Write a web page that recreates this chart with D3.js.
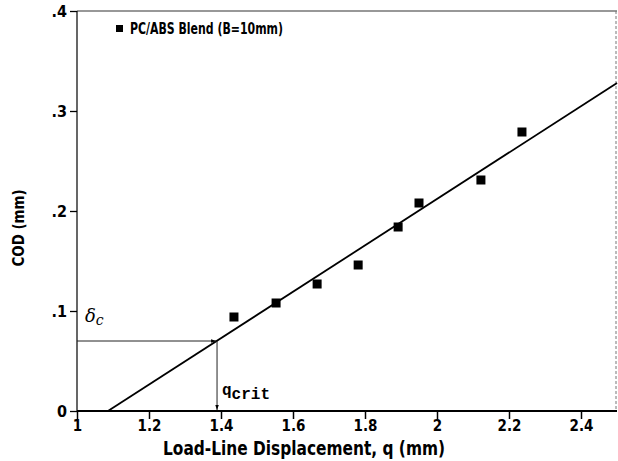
<!DOCTYPE html>
<html>
<head>
<meta charset="utf-8">
<script src="https://cdn.jsdelivr.net/npm/d3@7"></script>
<style>
  body { margin: 0; background: #fff; }
  svg { display: block; }
</style>
</head>
<body>
<div id="container"></div>
<script>
// DATA
const qValues = [1.436, 1.553, 1.667, 1.781, 1.892, 1.95, 2.122, 2.236];
const codValues = [0.094, 0.108, 0.127, 0.146, 0.184, 0.208, 0.231, 0.279];
const fitX = [1.086, 2.5];
const fitY = [0, 0.328];
const qCrit = 1.389;
const deltaC = 0.070;
const xTicks = [1, 1.2, 1.4, 1.6, 1.8, 2, 2.2, 2.4];
const xTickLabels = ["1", "1.2", "1.4", "1.6", "1.8", "2", "2.2", "2.4"];
const yTicks = [0, 0.1, 0.2, 0.3, 0.4];
const yTickLabels = ["0", ".1", ".2", ".3", ".4"];
const legendLabel = "PC/ABS Blend (B=10mm)";

// SVG
const width = 618;
const height = 461;
const font = "'DejaVu Sans Condensed', 'Liberation Sans Narrow', sans-serif";

const svg = d3.select("div#container").append("svg")
    .attr("width", width)
    .attr("height", height);

// SCALES
const x = d3.scaleLinear().domain([1, 2.5]).range([77, 617]);
const y = d3.scaleLinear().domain([0, 0.4]).range([411, 11]);

// frame (top + right, faint)
svg.append("line")
    .attr("x1", x(1)).attr("x2", x(2.5))
    .attr("y1", y(0.4)).attr("y2", y(0.4))
    .attr("stroke", "#333").attr("stroke-width", 1.2);
svg.append("line")
    .attr("x1", x(2.5) - 1).attr("x2", x(2.5) - 1)
    .attr("y1", y(0.4)).attr("y2", y(0))
    .attr("stroke", "#777").attr("stroke-width", 1)
    .attr("stroke-dasharray", "3,2");

// AXES
const xAxis = svg.append("g")
    .attr("transform", "translate(0," + y(0) + ")")
    .call(d3.axisBottom(x).tickValues(xTicks)
      .tickFormat((d, i) => xTickLabels[i]).tickSize(8).tickPadding(1));
xAxis.select(".domain").attr("stroke-width", 2).attr("d", "M" + x(1) + ",0H" + x(2.5));
xAxis.selectAll(".tick line").attr("stroke-width", 1.5);
xAxis.selectAll(".tick text")
    .attr("font-family", font).attr("font-size", 15).attr("font-weight", "bold")
    .attr("fill", "#000");

const yAxis = svg.append("g")
    .attr("transform", "translate(" + x(1) + ",0)")
    .call(d3.axisLeft(y).tickValues(yTicks)
      .tickFormat((d, i) => yTickLabels[i]).tickSize(7).tickPadding(3));
yAxis.select(".domain").attr("stroke-width", 1.2).attr("d", "M0," + y(0.4) + "V" + y(0));
yAxis.selectAll(".tick line").attr("stroke-width", 1.3);
yAxis.selectAll(".tick text")
    .attr("font-family", font).attr("font-size", 16).attr("font-weight", "bold")
    .attr("fill", "#000");

// AXIS TITLES
svg.append("text")
    .attr("x", 304).attr("y", 455)
    .attr("text-anchor", "middle")
    .attr("font-family", font).attr("font-size", 19).attr("font-weight", "bold")
    .attr("textLength", 282).attr("lengthAdjust", "spacingAndGlyphs")
    .text("Load-Line Displacement, q (mm)");

svg.append("text")
    .attr("transform", "translate(24,228) rotate(-90)")
    .attr("text-anchor", "middle")
    .attr("font-family", font).attr("font-size", 16).attr("font-weight", "bold")
    .attr("textLength", 77).attr("lengthAdjust", "spacingAndGlyphs")
    .text("COD (mm)");

// FIT LINE
const line = d3.line()
    .x(d => x(d[0]))
    .y(d => y(d[1]));
svg.append("path")
    .datum(fitX.map((d, i) => [d, fitY[i]]))
    .attr("d", line)
    .attr("fill", "none")
    .attr("stroke", "#000")
    .attr("stroke-width", 1.8);

// CRITICAL POINT ARROWS
svg.append("defs").append("marker")
    .attr("id", "arrow")
    .attr("viewBox", "0 0 10 10")
    .attr("refX", 10).attr("refY", 5)
    .attr("markerWidth", 11).attr("markerHeight", 5)
    .attr("markerUnits", "userSpaceOnUse")
    .attr("orient", "auto")
    .append("path")
    .attr("d", "M0,1.5L10,5L0,8.5Z")
    .attr("fill", "#000");

svg.append("line")
    .attr("x1", x(1)).attr("x2", x(qCrit) - 1)
    .attr("y1", y(deltaC)).attr("y2", y(deltaC))
    .attr("stroke", "#222").attr("stroke-width", 1)
    .attr("marker-end", "url(#arrow)");
svg.append("line")
    .attr("x1", x(qCrit)).attr("x2", x(qCrit))
    .attr("y1", y(deltaC)).attr("y2", y(0) - 1)
    .attr("stroke", "#222").attr("stroke-width", 1)
    .attr("marker-end", "url(#arrow)");

svg.append("text")
    .attr("x", 85).attr("y", 322)
    .attr("font-family", "'DejaVu Serif', 'Liberation Serif', serif")
    .attr("font-style", "italic").attr("font-size", 18)
    .text("δ")
    .append("tspan")
    .attr("dy", 3).attr("font-size", 14)
    .text("c");

const qLabel = svg.append("text")
    .attr("x", 222).attr("y", 395)
    .attr("font-family", "'Liberation Mono', 'DejaVu Sans Mono', monospace")
    .attr("font-weight", "bold").attr("font-size", 16);
qLabel.append("tspan").text("q");
qLabel.append("tspan").attr("dy", 4).attr("font-size", 16).text("crit");

// DOTS
svg.append("g")
    .selectAll("rect")
    .data(qValues.map((d, i) => [d, codValues[i]]))
    .enter().append("rect")
      .attr("x", d => x(d[0]) - 4.5)
      .attr("y", d => y(d[1]) - 4.5)
      .attr("width", 9)
      .attr("height", 9)
      .attr("fill", "#000");

// LEGEND
svg.append("rect")
    .attr("x", 116).attr("y", 25).attr("width", 7).attr("height", 7)
    .attr("fill", "#000");
svg.append("text")
    .attr("x", 130).attr("y", 34)
    .attr("font-family", font).attr("font-size", 15).attr("font-weight", "bold")
    .attr("textLength", 153).attr("lengthAdjust", "spacingAndGlyphs")
    .text(legendLabel);
</script>
</body>
</html>
